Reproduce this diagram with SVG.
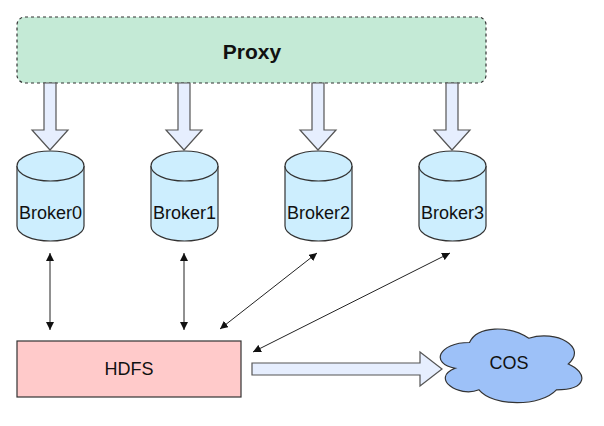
<svg xmlns="http://www.w3.org/2000/svg" width="604" height="426" viewBox="0 0 604 426">
<style>
.lbl{font-family:"Liberation Sans",Arial,Helvetica,sans-serif;font-size:18px;fill:#111;text-anchor:middle}
.cyl{fill:#cdeefe;stroke:#333;stroke-width:1.2}
.blk{fill:#e6eefe;stroke:#555;stroke-width:1.2}
.con{stroke:#222;stroke-width:1;fill:none;marker-start:url(#ah);marker-end:url(#ah)}
</style>
<defs>
<marker id="ah" viewBox="0 0 10 10" refX="10" refY="5" markerWidth="8" markerHeight="8" markerUnits="userSpaceOnUse" orient="auto-start-reverse">
<path d="M0,0 L10,5 L0,10 Z" fill="#111"/>
</marker>
<g id="cylshape">
<path class="cyl" d="M0,15 A33.5,15 0 0 1 67,15 L67,75 A33.5,15 0 0 1 0,75 Z"/>
<path class="cyl" fill="none" d="M0,15 A33.5,15 0 0 0 67,15"/>
</g>
</defs>
<rect width="604" height="426" fill="#fff"/>
<g id="proxy">
<rect x="17" y="17" width="469" height="66" rx="8" fill="#c4ead6" stroke="#333" stroke-width="1.2" stroke-dasharray="3,3"/>
<text class="lbl" x="252" y="59" style="font-weight:bold;font-size:21px">Proxy</text>
</g>
<g id="broker0">
<use href="#cylshape" x="17" y="151"/>
<text class="lbl" x="50.5" y="219">Broker0</text>
</g>
<g id="broker1">
<use href="#cylshape" x="151" y="151"/>
<text class="lbl" x="184.5" y="219">Broker1</text>
</g>
<g id="broker2">
<use href="#cylshape" x="285" y="151"/>
<text class="lbl" x="318.5" y="219">Broker2</text>
</g>
<g id="broker3">
<use href="#cylshape" x="419" y="151"/>
<text class="lbl" x="452.5" y="219">Broker3</text>
</g>
<g id="hdfs">
<rect x="17" y="341" width="224" height="56" fill="#ffcaca" stroke="#333" stroke-width="1.2"/>
<text class="lbl" x="129" y="375">HDFS</text>
</g>
<g id="cos">
<path d="M469.5,342.5 C437.9,342.5 430,364 455.3,368.3 C430,377.8 458.4,398.4 479,389.8 C493.2,407 540.6,407 556.4,389.8 C588,389.8 588,372.6 568.3,364 C588,346.8 556.4,329.6 528.8,338.2 C509,325.3 477.4,325.3 469.5,342.5 Z" fill="#9dc1f8" stroke="#333" stroke-width="1.2"/>
<text class="lbl" x="509" y="369">COS</text>
</g>
<g id="connectors">
<polygon class="blk" points="44,83 56,83 56,130 68,130 50,150 32,130 44,130"/>
<polygon class="blk" points="178,83 190,83 190,130 202,130 184,150 166,130 178,130"/>
<polygon class="blk" points="312,83 324,83 324,130 336,130 318,150 300,130 312,130"/>
<polygon class="blk" points="446,83 458,83 458,130 470,130 452,150 434,130 446,130"/>
<polygon class="blk" points="252,363 420,363 420,352 442,369 420,386 420,375 252,375"/>
<line class="con" x1="50" y1="253" x2="50" y2="330"/>
<line class="con" x1="184" y1="253" x2="184" y2="330"/>
<line class="con" x1="317" y1="253" x2="220" y2="329"/>
<line class="con" x1="450" y1="253" x2="253" y2="352"/>
</g>
</svg>
